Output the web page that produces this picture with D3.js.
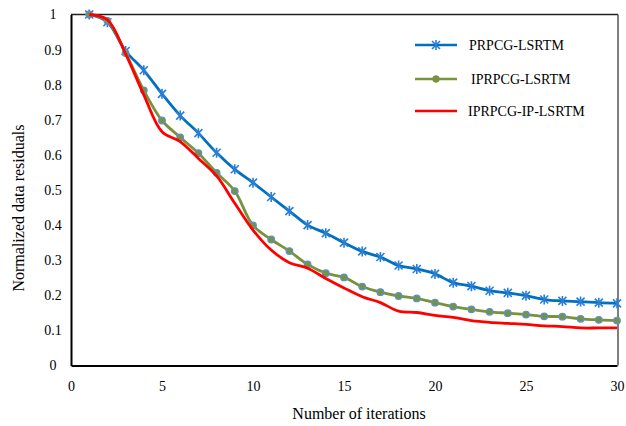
<!DOCTYPE html>
<html>
<head>
<meta charset="utf-8">
<script src="https://cdn.jsdelivr.net/npm/d3@7"></script>
<style>
body { margin: 0; background: #fff; }
text { font-family: "Liberation Serif", "Times New Roman", serif; fill: #000; }
</style>
</head>
<body>
<svg id="chart" width="626" height="426"></svg>
<script>
// iterations and normalized residuals
var iters = d3.range(1, 31);
var prpcg = [1.0, 0.978, 0.896, 0.841, 0.774, 0.712, 0.662, 0.606, 0.559, 0.521,
             0.480, 0.440, 0.400, 0.377, 0.350, 0.325, 0.309, 0.285, 0.275, 0.261,
             0.236, 0.226, 0.213, 0.207, 0.199, 0.188, 0.184, 0.182, 0.179, 0.177];
var iprpcg = [1.0, 0.982, 0.890, 0.784, 0.698, 0.650, 0.605, 0.549, 0.497, 0.399,
              0.359, 0.326, 0.288, 0.263, 0.251, 0.225, 0.209, 0.198, 0.191, 0.179,
              0.168, 0.160, 0.153, 0.149, 0.145, 0.140, 0.139, 0.133, 0.130, 0.128];
var iprpcgIp = [1.0, 0.985, 0.888, 0.771, 0.666, 0.638, 0.590, 0.540, 0.462, 0.386,
                0.329, 0.293, 0.277, 0.248, 0.221, 0.196, 0.179, 0.155, 0.151, 0.143,
                0.137, 0.128, 0.123, 0.120, 0.117, 0.113, 0.111, 0.107, 0.107, 0.107];
var xTicks = [0, 5, 10, 15, 20, 25, 30];
var yTicks = [0, 0.1, 0.2, 0.3, 0.4, 0.5, 0.6, 0.7, 0.8, 0.9, 1];
var names = ["PRPCG-LSRTM", "IPRPCG-LSRTM", "IPRPCG-IP-LSRTM"];

var svg = d3.select("#chart");
var pLeft = 71, pRight = 617, pTop = 14.5, pBottom = 365.5;

var x = d3.scaleLinear().domain([0, 30]).range([pLeft, pRight]);
var y = d3.scaleLinear().domain([0, 1]).range([pBottom, pTop]);

// frame top / right
svg.append("line").attr("x1", pLeft).attr("x2", pRight + 1).attr("y1", pTop).attr("y2", pTop)
    .attr("stroke", "#222").attr("stroke-width", 1.5);
svg.append("line").attr("x1", pRight + 1).attr("x2", pRight + 1).attr("y1", pTop).attr("y2", pBottom)
    .attr("stroke", "#555").attr("stroke-width", 1.5);

var xAxis = svg.append("g").attr("transform", `translate(0,${pBottom})`)
    .call(d3.axisBottom(x).tickValues(xTicks).tickSize(0).tickPadding(16).tickFormat(d3.format("d")));
var yAxis = svg.append("g").attr("transform", `translate(${pLeft},0)`)
    .call(d3.axisLeft(y).tickValues(yTicks).tickSize(0).tickFormat(d => d == 0 ? "0" : d == 1 ? "1" : d3.format(".1f")(d)));
yAxis.selectAll("text").attr("text-anchor", "middle").attr("x", -18);
svg.selectAll(".domain").attr("stroke", "#000").attr("stroke-width", 2);
svg.selectAll(".tick text").style("font-family", "Liberation Serif").style("font-size", "14px");

svg.append("text").attr("text-anchor", "middle").attr("x", 359).attr("y", 419)
    .style("font-size", "16px").text("Number of iterations");
svg.append("text").attr("text-anchor", "middle").attr("transform", "translate(24,208) rotate(-90)")
    .style("font-size", "16px").text("Normalized data residuals");

var line = d3.line().x((d, i) => x(iters[i])).y(d => y(d)).curve(d3.curveCatmullRom.alpha(0.5));
var star = "M0,-5L0,5M-4,-4L4,4M-4,4L4,-4";

// PRPCG
svg.append("path").datum(prpcg).attr("d", line).attr("fill", "none")
    .attr("stroke", "#0070C0").attr("stroke-width", 2.8);
svg.selectAll(".star").data(prpcg).enter().append("path").attr("class", "star")
    .attr("d", star).attr("transform", (d, i) => `translate(${x(iters[i])},${y(d)})`)
    .attr("stroke", "#2a7fd4").attr("stroke-width", 1.6).attr("fill", "none");

// IPRPCG
svg.append("path").datum(iprpcg).attr("d", line).attr("fill", "none")
    .attr("stroke", "#77933C").attr("stroke-width", 2.8);
svg.selectAll(".dot").data(iprpcg).enter().append("circle").attr("class", "dot")
    .attr("cx", (d, i) => x(iters[i])).attr("cy", d => y(d)).attr("r", 3.3)
    .attr("fill", "#77933C").attr("stroke", "#5b8fd6").attr("stroke-width", 1.2);

// IPRPCG-IP
svg.append("path").datum(iprpcgIp).attr("d", line).attr("fill", "none")
    .attr("stroke", "#FF0000").attr("stroke-width", 2.8);

// legend
var legY = [45, 79, 111];
var legColor = ["#0070C0", "#77933C", "#FF0000"];
var legend = svg.selectAll(".legend").data(names).enter().append("g").attr("class", "legend")
    .attr("transform", (d, i) => `translate(415,${legY[i]})`);
legend.append("line").attr("x1", 0).attr("x2", 42).attr("y1", 0).attr("y2", 0)
    .attr("stroke", (d, i) => legColor[i]).attr("stroke-width", 2.5);
legend.filter((d, i) => i == 0).append("path").attr("d", star).attr("transform", "translate(21,0)")
    .attr("stroke", "#2a7fd4").attr("stroke-width", 1.6).attr("fill", "none");
legend.filter((d, i) => i == 1).append("circle").attr("cx", 21).attr("r", 3.3)
    .attr("fill", "#77933C").attr("stroke", "#77933C");
legend.append("text").attr("x", (d, i) => [54, 56, 53][i]).attr("dy", "0.35em")
    .style("font-size", "14px").text(d => d);
</script>
</body>
</html>
